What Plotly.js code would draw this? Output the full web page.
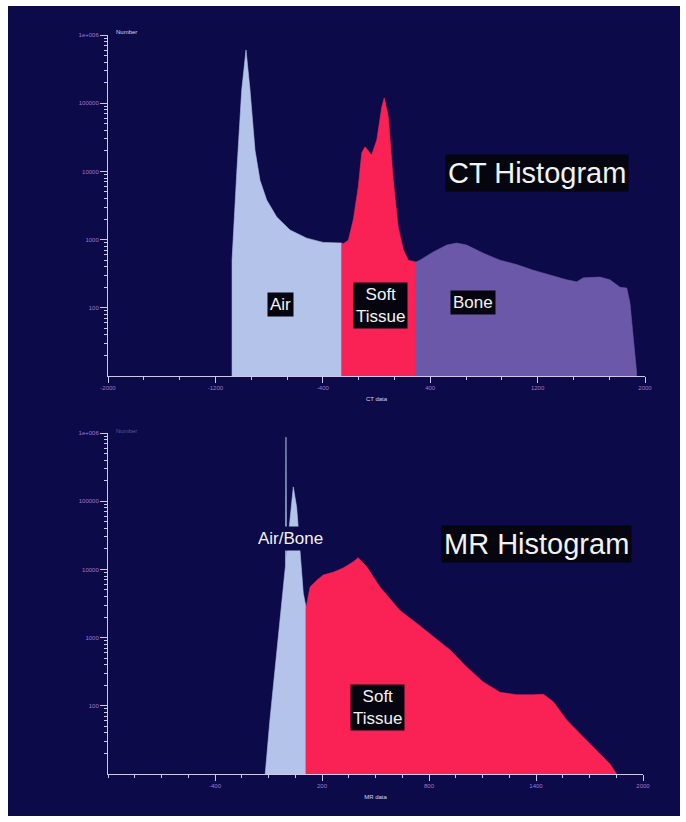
<!DOCTYPE html>
<html>
<head>
<meta charset="utf-8">
<script src="https://cdn.plot.ly/plotly-3.0.1.min.js"></script>
<style>html,body{margin:0;padding:0;background:#fff;}#chart{width:686px;height:822px;}</style>
</head>
<body>
<div id="chart"></div>
<script>
// ---- CT histogram data (CT value, count) ----
const ctAirX = [-1076, -1041, -1004, -972, -942, -905, -868, -818, -743, -644, -520, -398, -259];
const ctAirY = [500, 9550, 155000, 603000, 155000, 20400, 7400, 3800, 2140, 1380, 1050, 910, 890];
const ctSoftX = [-259, -247, -210, -173, -136, -110, -86, -36, 2, 39, 58, 88, 125, 162, 200, 237, 294];
const ctSoftY = [890, 870, 980, 1950, 5900, 18600, 22900, 17400, 28800, 87000, 120000, 63000, 7400, 1510, 710, 500, 470];
const ctBoneX = [294, 324, 423, 523, 597, 672, 796, 920, 1044, 1168, 1292, 1417, 1491, 1541, 1665, 1739, 1814, 1864, 1888, 1913, 1938];
const ctBoneY = [470, 500, 660, 830, 890, 830, 630, 500, 430, 355, 300, 257, 240, 275, 282, 257, 200, 195, 118, 34, 11];

// ---- MR histogram data (MR value, count) ----
const mrAirX = [-120, -92, -54, -17, -5, -2, 1, 11, 30, 39, 58, 77, 95, 110];
const mrAirY = [9, 62, 590, 5500, 11200, 870000, 14100, 30200, 115000, 162000, 81000, 17400, 4470, 2820];
const mrSoftX = [110, 133, 170, 207, 263, 319, 375, 403, 450, 525, 637, 731, 824, 918, 1011, 1104, 1198, 1292, 1385, 1441, 1497, 1572, 1665, 1759, 1815, 1852];
const mrSoftY = [2700, 5500, 6900, 8300, 9100, 10500, 12900, 14800, 11000, 5500, 2500, 1620, 1020, 660, 370, 224, 158, 145, 145, 148, 115, 62, 35, 20, 14, 10];

// ---- tick labels ----
const ctTickVals = [-2000, -1200, -400, 400, 1200, 2000];
const ctTickText = ['-2000', '-1200', '-400', '400', '1200', '2000'];
const mrTickVals = [-400, 200, 800, 1400, 2000];
const mrTickText = ['-400', '200', '800', '1400', '2000'];
const yTickVals = [100, 1000, 10000, 100000, 1000000];
const yTickText = ['100', '1000', '10000', '100000', '1e+006'];

const BASE = 1; // below visible range; closes the filled areas at the axis
const NAVY = '#0c0a48';
const AIR = '#b4c3ea';
const SOFT = '#fa2254';
const BONE = '#6b58a8';
const FONT = 'Liberation Sans, Arial, sans-serif';

function area(xs, ys, color, xa, ya) {
  return {
    x: [xs[0]].concat(xs, [xs[xs.length - 1]]),
    y: [BASE].concat(ys, [BASE]),
    xaxis: xa, yaxis: ya,
    type: 'scatter', mode: 'lines', fill: 'toself',
    fillcolor: color, line: {color: color, width: 0.6},
    hoverinfo: 'skip', showlegend: false
  };
}

const traces = [
  area(ctAirX, ctAirY, AIR, 'x', 'y'),
  area(ctSoftX, ctSoftY, SOFT, 'x', 'y'),
  area(ctBoneX, ctBoneY, BONE, 'x', 'y'),
  area(mrAirX, mrAirY, AIR, 'x2', 'y2'),
  area(mrSoftX, mrSoftY, SOFT, 'x2', 'y2')
];

const W = 686, H = 822;
const axLine = '#cfc8ee';
const tickFont = {family: FONT, size: 6, color: '#a678c8'};

function xAxis(range, tv, tt, minorD, domain, anchor, title) {
  return {
    domain: domain, anchor: anchor, range: range,
    tickmode: 'array', tickvals: tv, ticktext: tt,
    ticks: 'outside', ticklen: 6, tickcolor: axLine, tickwidth: 1,
    minor: {dtick: minorD, tick0: range[0], ticks: 'outside', ticklen: 3, tickcolor: axLine, showgrid: false},
    showline: true, linecolor: axLine, linewidth: 1,
    showgrid: false, zeroline: false, tickfont: tickFont,
    title: {text: title, font: {family: FONT, size: 6, color: '#d8d4f0'}, standoff: 6},
    fixedrange: true
  };
}
function yAxis(domain, anchor) {
  return {
    domain: domain, anchor: anchor, type: 'log', range: [1, 6],
    tickmode: 'array', tickvals: yTickVals, ticktext: yTickText,
    ticks: 'outside', ticklen: 7, tickcolor: axLine, tickwidth: 1,
    minor: {tickvals: [20,30,40,50,60,70,80,90,200,300,400,500,600,700,800,900,2000,3000,4000,5000,6000,7000,8000,9000,20000,30000,40000,50000,60000,70000,80000,90000,200000,300000,400000,500000,600000,700000,800000,900000], ticks: 'outside', ticklen: 3, tickcolor: axLine, showgrid: false},
    showline: true, linecolor: axLine, linewidth: 1,
    showgrid: false, zeroline: false, tickfont: tickFont,
    fixedrange: true
  };
}

function label(text, x, y, size, bg) {
  return {text: text, xref: 'paper', yref: 'paper', x: x / W, y: 1 - y / H,
    xanchor: 'center', yanchor: 'middle', showarrow: false,
    font: {family: FONT, size: size, color: '#f2f2f2'}, bgcolor: bg, borderpad: 2, align: 'center'};
}

const layout = {
  width: W, height: H,
  margin: {l: 0, r: 0, t: 0, b: 0},
  paper_bgcolor: '#ffffff', plot_bgcolor: 'rgba(0,0,0,0)',
  shapes: [{type: 'rect', xref: 'paper', yref: 'paper', x0: 8 / W, x1: 680 / W, y0: 1 - 816 / H, y1: 1 - 6 / H,
    fillcolor: NAVY, line: {width: 0}, layer: 'below'}],
  xaxis: xAxis([-2000, 2000], ctTickVals, ctTickText, 800 / 3, [108 / W, 645 / W], 'y', 'CT data'),
  yaxis: yAxis([1 - 376 / H, 1 - 35 / H], 'x'),
  xaxis2: xAxis([-1000, 2000], mrTickVals, mrTickText, 150, [108 / W, 643 / W], 'y2', 'MR data'),
  yaxis2: yAxis([1 - 774 / H, 1 - 433 / H], 'x2'),
  annotations: [
    {text: 'Number', xref: 'paper', yref: 'paper', x: 114 / W, y: 1 - 32 / H, xanchor: 'left', yanchor: 'middle',
      showarrow: false, font: {family: FONT, size: 6, color: '#d8d4f0'}},
    {text: 'Number', xref: 'paper', yref: 'paper', x: 114 / W, y: 1 - 431 / H, xanchor: 'left', yanchor: 'middle',
      showarrow: false, font: {family: FONT, size: 6, color: '#5a5890'}},
    label('CT Histogram', 537, 173, 29, '#05050f'),
    label('MR Histogram', 536, 544, 29, '#05050f'),
    label('Air', 280, 304, 17, '#05050f'),
    label('Soft<br>Tissue', 380, 305, 17, '#05050f'),
    label('Bone', 473, 303, 17, '#05050f'),
    label('Air/Bone', 290, 538, 17, NAVY),
    label('Soft<br>Tissue', 377, 707, 17, '#05050f')
  ]
};

Plotly.newPlot('chart', traces, layout, {displayModeBar: false, staticPlot: true});
</script>
</body>
</html>
